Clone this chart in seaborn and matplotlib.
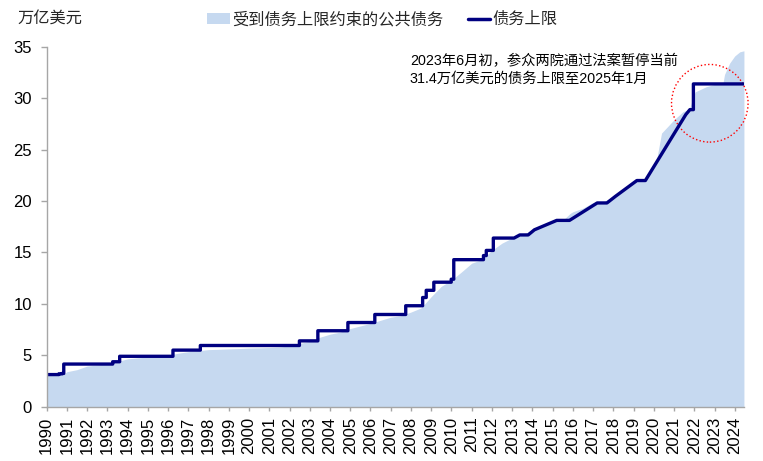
import pandas as pd
import matplotlib
matplotlib.use("Agg")
import matplotlib.pyplot as plt
import matplotlib.dates as mdates
from matplotlib.patches import Ellipse, Patch
from matplotlib.lines import Line2D
import seaborn as sns

# 债务上限（万亿美元）；阶跃处同一日期给出前后两个值
ceiling_dates = [
    "1990-01-01", "1990-08-09", "1990-08-09", "1990-10-02", "1990-10-02",
    "1990-11-05", "1990-11-05", "1993-04-06", "1993-04-06", "1993-08-10",
    "1993-08-10", "1996-03-29", "1996-03-29", "1997-08-05", "1997-08-05",
    "2002-06-28", "2002-06-28", "2003-05-27", "2003-05-27", "2004-11-19",
    "2004-11-19", "2006-03-20", "2006-03-20", "2007-09-29", "2007-09-29",
    "2008-07-30", "2008-07-30", "2008-10-03", "2008-10-03", "2009-02-17",
    "2009-02-17", "2009-12-28", "2009-12-28", "2010-02-12", "2010-02-12",
    "2011-08-02", "2011-08-02", "2011-09-22", "2011-09-22", "2012-01-27",
    "2012-01-27", "2013-02-04", "2013-05-19", "2013-10-17", "2014-02-07",
    "2015-03-16", "2015-11-02", "2017-03-16", "2017-09-08", "2018-02-09",
    "2019-03-02", "2019-08-02", "2021-08-01", "2021-10-14", "2021-12-16",
    "2021-12-16", "2024-06-15",
]
ceiling_values = [
    3.123, 3.123, 3.195, 3.195, 3.23,
    3.23, 4.145, 4.145, 4.37, 4.37,
    4.9, 4.9, 5.5, 5.5, 5.95,
    5.95, 6.4, 6.4, 7.384, 7.384,
    8.184, 8.184, 8.965, 8.965, 9.815,
    9.815, 10.615, 10.615, 11.315, 11.315,
    12.104, 12.104, 12.394, 12.394, 14.294,
    14.294, 14.694, 14.694, 15.194, 15.194,
    16.394, 16.394, 16.699, 16.699, 17.2,
    18.113, 18.113, 19.809, 19.809, 20.456,
    21.988, 21.988, 28.401, 28.881, 28.881,
    31.381, 31.381,
]

# 受到债务上限约束的公共债务（万亿美元）
debt_dates = [
    "1990-01-01", "1990-07-01", "1990-11-01", "1991-01-01", "1991-07-01",
    "1992-01-01", "1992-07-01", "1993-01-01", "1993-07-01", "1994-01-01",
    "1994-07-01", "1995-01-01", "1995-07-01", "1996-01-01", "1996-04-01",
    "1996-07-01", "1997-01-01", "1997-07-01", "1998-01-01", "1998-07-01",
    "1999-01-01", "1999-07-01", "2000-01-01", "2000-07-01", "2001-01-01",
    "2001-07-01", "2002-01-01", "2002-07-01", "2003-01-01", "2003-07-01",
    "2004-01-01", "2004-07-01", "2005-01-01", "2005-07-01", "2006-01-01",
    "2006-07-01", "2007-01-01", "2007-07-01", "2008-01-01", "2008-07-01",
    "2009-01-01", "2009-07-01", "2010-01-01", "2010-07-01", "2011-01-01",
    "2011-07-01", "2012-01-01", "2012-07-01", "2013-01-01", "2013-07-01",
    "2014-01-01", "2014-07-01", "2015-01-01", "2015-07-01", "2015-11-15",
    "2016-01-01", "2016-07-01", "2017-01-01", "2017-07-01", "2018-01-01",
    "2018-07-01", "2019-01-01", "2019-08-01", "2019-09-01", "2020-01-01",
    "2020-02-20", "2020-05-20", "2021-01-01", "2021-06-15", "2021-10-01",
    "2022-01-15", "2022-08-01", "2023-01-15", "2023-06-01", "2023-07-01",
    "2023-10-01", "2024-01-01", "2024-04-01", "2024-06-15",
]
debt_values = [
    3.03, 3.10, 3.15, 3.40, 3.60,
    3.95, 4.05, 4.20, 4.40, 4.65,
    4.75, 4.82, 4.87, 4.88, 5.10,
    5.20, 5.35, 5.45, 5.55, 5.58,
    5.62, 5.65, 5.70, 5.72, 5.75,
    5.80, 5.90, 6.15, 6.35, 6.75,
    7.05, 7.25, 7.60, 7.85, 8.10,
    8.40, 8.70, 8.85, 9.20, 9.60,
    10.70, 11.70, 12.30, 13.10, 13.95,
    14.30, 15.20, 15.90, 16.40, 16.70,
    17.20, 17.60, 18.05, 18.10, 18.80,
    18.95, 19.30, 19.85, 19.90, 20.45,
    21.20, 21.90, 22.00, 22.60, 23.30,
    24.00, 26.60, 27.90, 28.70, 28.90,
    30.60, 31.10, 31.35, 31.40, 32.30,
    33.40, 34.10, 34.50, 34.60,
]

y_ticks = [0, 5, 10, 15, 20, 25, 30, 35]

fill_color = "#C6D9F0"
line_color = "#000080"
axis_gray = "#A6A6A6"

sns.set_theme(style="white")
plt.rcParams["font.family"] = ["Liberation Sans", "Noto Sans CJK SC"]

ceiling = pd.DataFrame({"date": pd.to_datetime(ceiling_dates), "value": ceiling_values})
debt = pd.DataFrame({"date": pd.to_datetime(debt_dates), "value": debt_values})

fig = plt.figure(figsize=(7.63, 4.61), dpi=100)
ax = fig.add_axes([0.0612, 0.1178, 0.9138, 0.7809])

ax.fill_between(debt["date"], 0, debt["value"], color=fill_color, linewidth=0)
sns.lineplot(data=ceiling, x="date", y="value", sort=False, estimator=None,
             color=line_color, linewidth=2.4, ax=ax)

ax.set_xlim(pd.Timestamp("1990-01-01"), pd.Timestamp("2024-06-15"))
ax.set_ylim(0, 35)
ax.set_yticks(y_ticks)
ax.xaxis.set_major_locator(mdates.YearLocator(1))
ax.xaxis.set_major_formatter(mdates.DateFormatter("%Y"))
ax.set_xlabel("")
ax.set_ylabel("")

for side in ["top", "right"]:
    ax.spines[side].set_visible(False)
for side in ["left", "bottom"]:
    ax.spines[side].set_color(axis_gray)
    ax.spines[side].set_linewidth(1.0)

ax.tick_params(axis="x", which="major", bottom=True, length=3, width=1, color=axis_gray,
               labelsize=12, rotation=90, pad=4, labelcolor="black")
ax.tick_params(axis="y", which="major", left=True, length=4, width=1, color=axis_gray,
               labelsize=12, pad=6.5, labelcolor="black")
ax.grid(False)

# 红色虚线圈
circle_center = mdates.date2num(pd.Timestamp("2022-10-08"))
ax.add_patch(Ellipse((circle_center, 29.5), width=1382, height=7.55, fill=False,
                     edgecolor="red", linestyle=":", linewidth=1.0, clip_on=False))

note_x = pd.Timestamp("2007-12-13")
ax.text(note_x, 33.6, "2023年6月初，参众两院通过法案暂停当前", fontsize=10.3,
        va="center", ha="left", color="black")
ax.text(note_x, 31.84, "31.4万亿美元的债务上限至2025年1月", fontsize=10.3,
        va="center", ha="left", color="black")

fig.text(0.0225, 0.96, "万亿美元", fontsize=11.7, va="center", ha="left")

handles = [
    Patch(facecolor=fill_color, edgecolor="none", label="受到债务上限约束的公共债务"),
    Line2D([0], [0], color=line_color, linewidth=2.5, label="债务上限"),
]
fig.legend(handles=handles, loc="center", bbox_to_anchor=(0.501, 0.958), ncol=2,
           frameon=False, fontsize=11.7, handlelength=1.4, handleheight=0.7,
           handletextpad=0.15, columnspacing=1.5, borderaxespad=0)

fig.savefig("out.png", dpi=100)
